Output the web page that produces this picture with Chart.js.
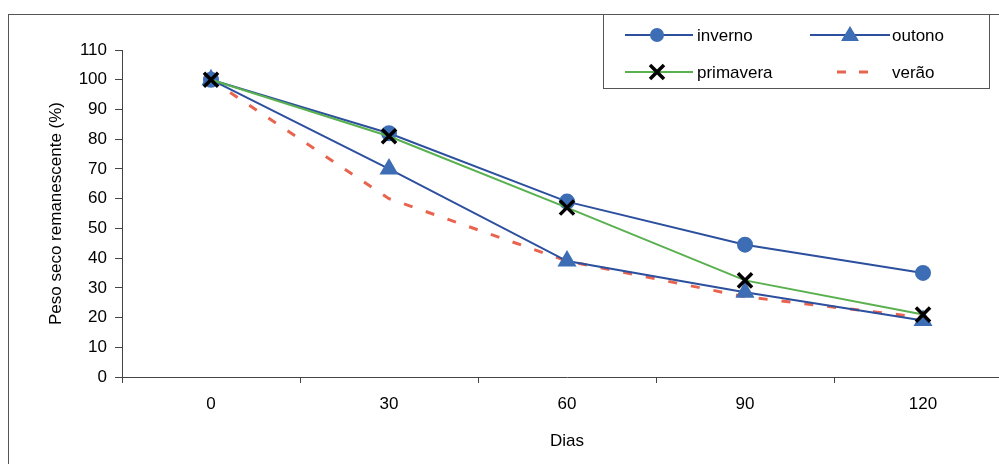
<!DOCTYPE html>
<html>
<head>
<meta charset="utf-8">
<script src="https://cdn.jsdelivr.net/npm/chart.js@4.4.1/dist/chart.umd.min.js"></script>
<style>
  html, body { margin: 0; padding: 0; background: #fff; overflow: hidden; }
  #wrap { position: absolute; left: 0; top: 0; width: 1040px; height: 464px; }
</style>
</head>
<body>
<div id="wrap"><canvas id="grafico" width="1040" height="464"></canvas></div>
<script>
const dias = ['0', '30', '60', '90', '120'];
const inverno = [100, 82, 59, 44.5, 35];
const outono = [100, 70, 39, 28.5, 19];
const primavera = [100, 81, 57, 32.5, 21];
const verao = [100, 60, 39, 27, 20];

const AZUL = '#2c4f9e';
const AZUL_MARCA = '#3d6db4';
const VERDE = '#58b04e';
const VERMELHO = '#e8644f';
const FONTE = '"Liberation Sans", Arial, sans-serif';

// legenda desenhada a mao, caixa 2x2 como no original
const legendaCaixa = {
  id: 'legendaCaixa',
  afterDraw(chart) {
    const ctx = chart.ctx;
    ctx.save();
    ctx.strokeStyle = '#555';
    ctx.lineWidth = 1;
    // moldura externa
    ctx.strokeRect(8.5, 14.5, 1100, 500);
    ctx.fillStyle = '#fff';
    ctx.fillRect(603.5, 14.5, 386, 74);
    ctx.strokeRect(603.5, 14.5, 386, 74);

    ctx.font = '17px ' + FONTE;
    ctx.fillStyle = '#000';
    ctx.textBaseline = 'middle';

    const linha = (x1, x2, y, cor, larg, dash) => {
      ctx.beginPath();
      ctx.setLineDash(dash || []);
      ctx.strokeStyle = cor;
      ctx.lineWidth = larg;
      ctx.moveTo(x1, y);
      ctx.lineTo(x2, y);
      ctx.stroke();
      ctx.setLineDash([]);
    };

    // inverno
    linha(625, 693, 35, AZUL, 2);
    ctx.beginPath();
    ctx.fillStyle = AZUL_MARCA;
    ctx.arc(657, 35, 7, 0, Math.PI * 2);
    ctx.fill();
    ctx.fillStyle = '#000';
    ctx.fillText('inverno', 697, 36);

    // outono
    linha(810, 890, 35, AZUL, 2);
    ctx.beginPath();
    ctx.fillStyle = AZUL_MARCA;
    ctx.moveTo(850, 26);
    ctx.lineTo(859, 41);
    ctx.lineTo(841, 41);
    ctx.closePath();
    ctx.fill();
    ctx.fillStyle = '#000';
    ctx.fillText('outono', 892, 36);

    // primavera
    linha(625, 693, 72, VERDE, 2);
    ctx.beginPath();
    ctx.strokeStyle = '#000';
    ctx.lineWidth = 3.5;
    ctx.moveTo(650, 65); ctx.lineTo(664, 79);
    ctx.moveTo(664, 65); ctx.lineTo(650, 79);
    ctx.stroke();
    ctx.fillText('primavera', 697, 73);

    // verao
    linha(837, 876, 72, VERMELHO, 3, [9, 13]);
    ctx.fillText('verão', 892, 73);
    ctx.restore();
  }
};

new Chart(document.getElementById('grafico'), {
  type: 'line',
  data: {
    labels: dias,
    datasets: [
      { label: 'inverno', data: inverno, borderColor: AZUL, borderWidth: 2, pointStyle: 'circle', pointRadius: 7,
        pointBackgroundColor: AZUL_MARCA, pointBorderColor: AZUL_MARCA, order: 1 },
      { label: 'outono', data: outono, borderColor: AZUL, borderWidth: 2, pointStyle: 'triangle', pointRadius: 9,
        pointBackgroundColor: AZUL_MARCA, pointBorderColor: AZUL_MARCA, order: 2 },
      { label: 'primavera', data: primavera, borderColor: VERDE, borderWidth: 2, pointStyle: 'crossRot', pointRadius: 10,
        pointBorderWidth: 3.5, pointBorderColor: '#000', order: 0 },
      { label: 'verão', data: verao, borderColor: VERMELHO, borderWidth: 3, borderDash: [9, 14], pointRadius: 0, order: 3 }
    ]
  },
  options: {
    responsive: false,
    animation: false,
    devicePixelRatio: 1,
    layout: { padding: { left: 0, top: 50, right: 28, bottom: 0 } },
    elements: { line: { tension: 0 } },
    plugins: { legend: { display: false }, tooltip: { enabled: false } },
    scales: {
      x: {
        offset: true,
        grid: { offset: true, drawOnChartArea: false, tickLength: 6, color: '#444' },
        border: { color: '#444', width: 1 },
        ticks: { color: '#000', font: { family: FONTE, size: 17 }, padding: 11 },
        title: { display: true, text: 'Dias', color: '#000', font: { family: FONTE, size: 17 }, padding: { top: 0, bottom: 12 } },
        afterFit(s) { s.height = 87; }
      },
      y: {
        min: 0, max: 110,
        grid: { drawOnChartArea: false, tickLength: 7, color: '#444' },
        border: { color: '#444', width: 1 },
        ticks: { stepSize: 10, color: '#000', font: { family: FONTE, size: 17 }, padding: 8 },
        title: { display: true, text: 'Peso seco remanescente (%)', color: '#000', font: { family: FONTE, size: 17 }, padding: { top: 46, bottom: 0 } },
        afterFit(s) { s.width = 122; }
      }
    }
  },
  plugins: [legendaCaixa]
});
</script>
</body>
</html>
